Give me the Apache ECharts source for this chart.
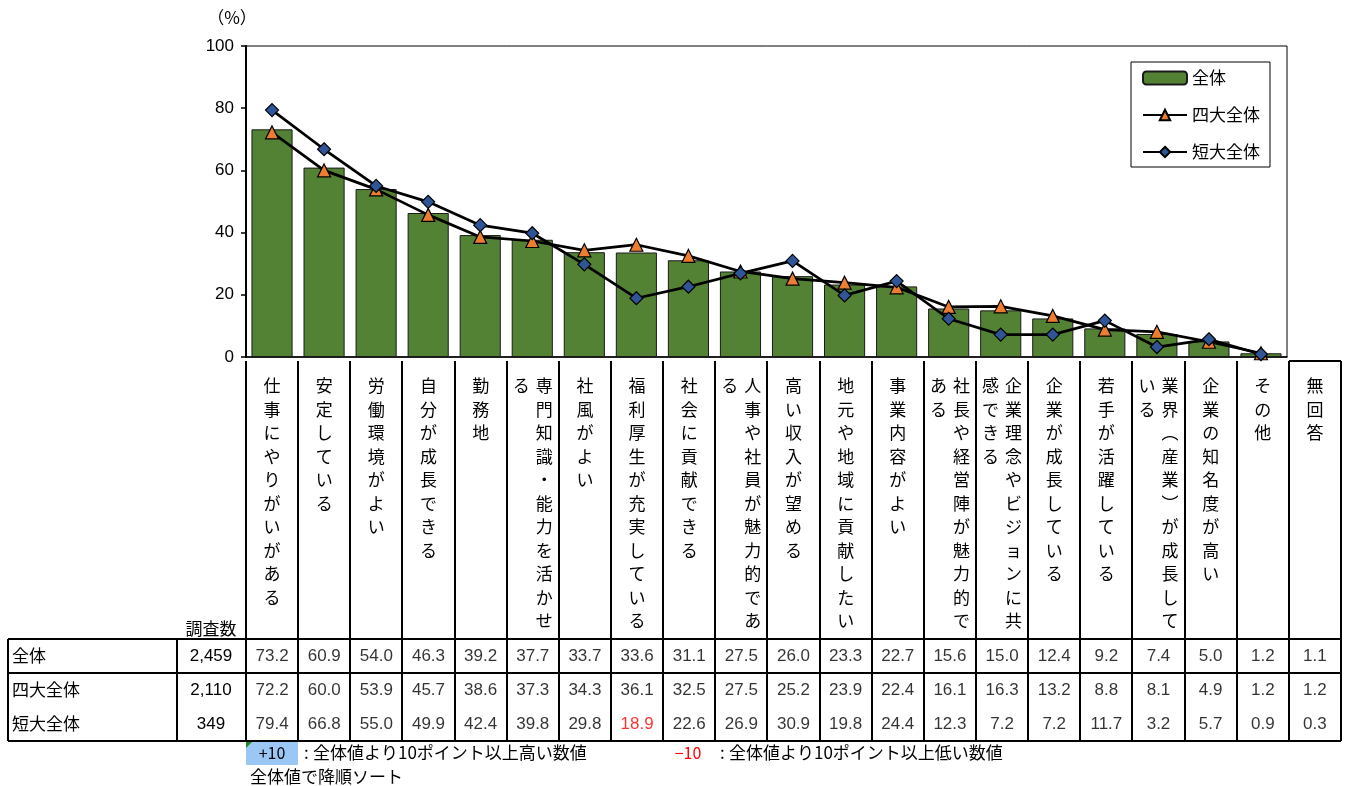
<!DOCTYPE html>
<html><head><meta charset="utf-8">
<script src="https://cdn.jsdelivr.net/npm/echarts@6/dist/echarts.min.js"></script>
<style>html,body{margin:0;padding:0;background:#fff}#c{width:1347px;height:786px}</style>
</head><body><div id="c"></div>
<script>
const categories = ['仕事にやりがいがある','安定している','労働環境がよい','自分が成長できる','勤務地','専門知識・能力を活かせる','社風がよい','福利厚生が充実している','社会に貢献できる','人事や社員が魅力的である','高い収入が望める','地元や地域に貢献したい','事業内容がよい','社長や経営陣が魅力的である','企業理念やビジョンに共感できる','企業が成長している','若手が活躍している','業界（産業）が成長している','企業の知名度が高い','その他','無回答'];
const seriesNames = ['全体','四大全体','短大全体'];
const sampleSizes = ['2,459','2,110','349'];
const allValues    = [73.2,60.9,54.0,46.3,39.2,37.7,33.7,33.6,31.1,27.5,26.0,23.3,22.7,15.6,15.0,12.4,9.2,7.4,5.0,1.2,1.1];
const univValues   = [72.2,60.0,53.9,45.7,38.6,37.3,34.3,36.1,32.5,27.5,25.2,23.9,22.4,16.1,16.3,13.2,8.8,8.1,4.9,1.2,1.2];
const juniorValues = [79.4,66.8,55.0,49.9,42.4,39.8,29.8,18.9,22.6,26.9,30.9,19.8,24.4,12.3,7.2,7.2,11.7,3.2,5.7,0.9,0.3];
const yTicks = [0,20,40,60,80,100];
const plottedCount = 20; // 無回答 is only in the table

const JP = '"Noto Sans CJK JP", "Noto Sans", sans-serif';
const NUM = '"Liberation Sans", Arial, sans-serif';

function verticalLabel(name){
  const chars = Array.from(name.replace('（','︵').replace('）','︶'));
  const maxLen = 11;
  if (chars.length <= maxLen) return chars.map(ch => '{s|'+ch+'}').join('\n');
  const right = chars.slice(0, maxLen), left = chars.slice(maxLen);
  return right.map((ch,i)=>'{c|'+(left[i]||'　')+'}{c|'+ch+'}').join('\n');
}

const tableData = [];
const rowsVals = [allValues, univValues, juniorValues];
rowsVals.forEach((arr, r) => {
  arr.forEach((v, i) => {
    const diff = v - allValues[i];
    let style = {};
    if (r > 0 && diff <= -10) style = {color:'#FF0000'};
    if (r > 0 && diff >= 10) style = {backgroundColor:'#9BC7F5'};
    tableData.push({value:[i, seriesNames[r], v], label: style});
  });
});

const option = {
  animation: false,
  backgroundColor: '#fff',
  textStyle: {fontFamily: JP},
  legend: {
    orient: 'vertical', left: 1131, top: 62,
    borderColor: '#000', borderWidth: 1, padding: [6, 10, 5, 11],
    itemWidth: 44, itemHeight: 13, itemGap: 17,
    textStyle: {fontSize: 17, color: '#000', fontFamily: JP, lineHeight: 20},
    data: seriesNames
  },
  grid: [
    {left: 246, right: 60, top: 46, bottom: 429, show: true, borderColor: '#000', borderWidth: 1},
    {left: 246, right: 6, top: 361, height: 278},
    {left: 246, right: 6, top: 639, height: 102}
  ],
  xAxis: [
    {gridIndex: 0, type: 'category', data: categories.slice(0, plottedCount),
     axisLine: {lineStyle: {color: '#000', width: 1.5}}, axisTick: {show: false}, axisLabel: {show: false}},
    {gridIndex: 1, type: 'category', data: categories, position: 'top',
     axisLine: {show: false}, axisTick: {show: false},
     axisLabel: {inside: true, interval: 0, margin: 13, verticalAlign: 'top', align: 'center',
       formatter: verticalLabel,
       rich: {
         s: {fontSize: 17, lineHeight: 23.5, width: 23, align: 'center', color: '#000', fontFamily: JP},
         c: {fontSize: 17, lineHeight: 23.5, width: 23, align: 'center', color: '#000', fontFamily: JP}
       }}},
    {gridIndex: 2, type: 'category', data: categories, show: false}
  ],
  yAxis: [
    {gridIndex: 0, type: 'value', min: 0, max: 100, interval: 20,
     axisLine: {show: true, lineStyle: {color: '#000', width: 2}},
     axisTick: {show: true, length: 5, lineStyle: {color: '#000', width: 1.5}},
     splitLine: {show: false},
     axisLabel: {margin: 12, fontSize: 17, color: '#000', fontFamily: '"Liberation Sans", sans-serif',
       formatter: v => yTicks.includes(v) ? String(v) : ''}},
    {gridIndex: 1, type: 'value', show: false},
    {gridIndex: 2, type: 'category', data: seriesNames, inverse: true, position: 'left', offset: 0,
     axisLine: {show: false}, axisTick: {show: false},
     axisLabel: {align: 'left', margin: 234, fontSize: 17, color: '#000', fontFamily: JP}},
    {gridIndex: 2, type: 'category', data: sampleSizes, inverse: true, position: 'left', offset: 0,
     axisLine: {show: false}, axisTick: {show: false},
     axisLabel: {align: 'center', margin: 35, fontSize: 17, color: '#000', fontFamily: NUM}}
  ],
  series: [
    {name: '全体', type: 'bar', xAxisIndex: 0, yAxisIndex: 0, data: allValues.slice(0, plottedCount),
     barCategoryGap: '21%',
     itemStyle: {color: '#548235', borderColor: '#1a1a1a', borderWidth: 1}},
    {name: '四大全体', type: 'line', xAxisIndex: 0, yAxisIndex: 0, data: univValues.slice(0, plottedCount),
     symbol: 'triangle', symbolSize: 13,
     lineStyle: {color: '#000', width: 2.75},
     itemStyle: {color: '#ED7D31', borderColor: '#000', borderWidth: 1.2}},
    {name: '短大全体', type: 'line', xAxisIndex: 0, yAxisIndex: 0, data: juniorValues.slice(0, plottedCount),
     symbol: 'diamond', symbolSize: 13,
     lineStyle: {color: '#000', width: 2.75},
     itemStyle: {color: '#2F5597', borderColor: '#000', borderWidth: 1.2}},
    {type: 'scatter', xAxisIndex: 2, yAxisIndex: 2, data: tableData, symbolSize: 2,
     itemStyle: {color: 'rgba(0,0,0,0)'}, silent: true, z: 20,
     labelLayout: {hideOverlap: false},
     label: {show: true, position: 'inside', fontSize: 17, color: '#000', fontFamily: NUM,
       formatter: p => p.value[2].toFixed(1)}}
  ]
};

const chart = echarts.init(document.getElementById('c'));
chart.setOption(option);

(function buildTable(){
  const c0 = chart.convertToPixel({xAxisIndex: 2}, 0);
  const c1 = chart.convertToPixel({xAxisIndex: 2}, 1);
  const bw = c1 - c0;
  const edges = [];
  for (let i = 0; i <= categories.length; i++) edges.push(Math.round(c0 - bw/2 + i*bw));
  const ry = seriesNames.map(n => chart.convertToPixel({yAxisIndex: 2}, n));
  const rh = ry[1] - ry[0];
  const tTop = Math.round(ry[0] - rh/2), tMid = Math.round(ry[0] + rh/2), tBot = Math.round(ry[2] + rh/2);
  const headTop = 361, tableLeft = 8, labelDiv = 177;
  const els = [];
  const L = (x1,y1,x2,y2) => els.push({type:'line', silent:true, z:10,
    shape:{x1,y1,x2,y2}, style:{stroke:'#000', lineWidth:2}});
  [tTop, tMid, tBot].forEach(y => L(tableLeft, y, edges[edges.length-1], y));
  [tableLeft, labelDiv].concat(edges).forEach(x => L(x, tTop, x, tBot));
  edges.forEach(x => L(x, headTop, x, tTop));
  L(edges[edges.length-2], headTop, edges[edges.length-1], headTop);
  const T = (text, x, y, extra) => els.push(Object.assign({type:'text', silent:true, z:10,
    style:Object.assign({text, x, y, fill:'#000', fontSize:17, fontFamily:JP, textVerticalAlign:'middle'}, extra||{})}));
  T('（%）', 232, 18, {textAlign:'center', fontSize:17});
  T('調査数', 211, 629, {textAlign:'center', fontSize:17});
  els.push({type:'rect', silent:true, shape:{x:edges[0], y:tBot+1, width:edges[1]-edges[0], height:23}, style:{fill:'#9BC7F5'}});
  els.push({type:'polygon', silent:true, shape:{points:[[edges[0],tBot+1],[edges[0]+6,tBot+1],[edges[0],tBot+7]]}, style:{fill:'#1E8A1E'}});
  T('+10', (edges[0]+edges[1])/2, tBot+12, {textAlign:'center', fontSize:16});
  T(':', 304, tBot+12, {textAlign:'left'});
  T('全体値より10ポイント以上高い数値', 313, tBot+12, {textAlign:'left'});
  T('−10', 688, tBot+12, {textAlign:'center', fill:'#FF0000', fontSize:16});
  T(':', 720, tBot+12, {textAlign:'left'});
  T('全体値より10ポイント以上低い数値', 729, tBot+12, {textAlign:'left'});
  T('全体値で降順ソート', 250, tBot+36, {textAlign:'left'});
  chart.setOption({graphic: {elements: els}});
})();
</script>
</body></html>
